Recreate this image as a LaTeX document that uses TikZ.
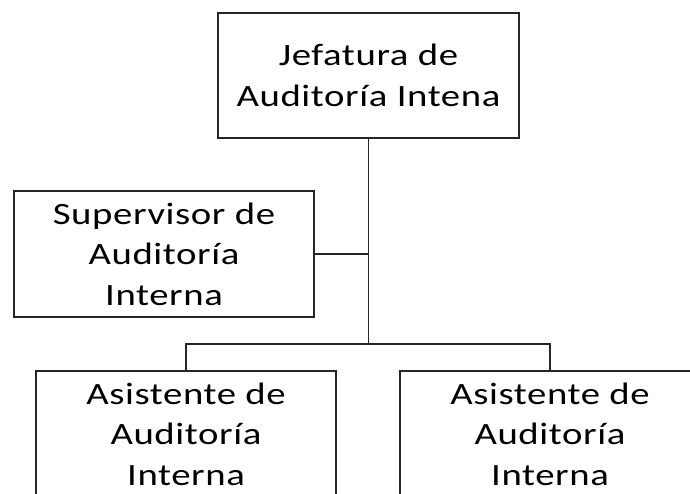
\documentclass[tikz,border=0pt]{standalone}
\usepackage{fontspec}
\setmainfont{Carlito}[FakeStretch=1.25,LetterSpace=2]
\usetikzlibrary{positioning}

\begin{document}
\begin{tikzpicture}[x=1pt,y=1pt,line width=1.7pt,
  cargo/.style={shape=rectangle,draw=black!85,minimum width=300pt,minimum height=126pt,
    align=center,inner sep=0pt,font=\fontsize{31}{40.5}\selectfont}]
\useasboundingbox (0,0) rectangle (690,493);
\node (jefe) at (368.5,417.5) [cargo,minimum width=301pt,minimum height=125pt] {Jefatura de\\Auditoría Intena};
\node (sup) at (164,239) [cargo] {Supervisor de\\Auditoría\\Interna};
\node (asis1) at (186,59) [cargo] {Asistente de\\Auditoría\\Interna};
\node (asis2) at (550,59) [cargo] {Asistente de\\Auditoría\\Interna};
\coordinate (bus) at (368.5,149);
\draw[black!85] (jefe.south) -- (bus);
\draw[black!85] (sup.east) -- (sup.east -| bus);
\draw[black!85] (asis1.north) |- (bus) -| (asis2.north);
\end{tikzpicture}
\end{document}
